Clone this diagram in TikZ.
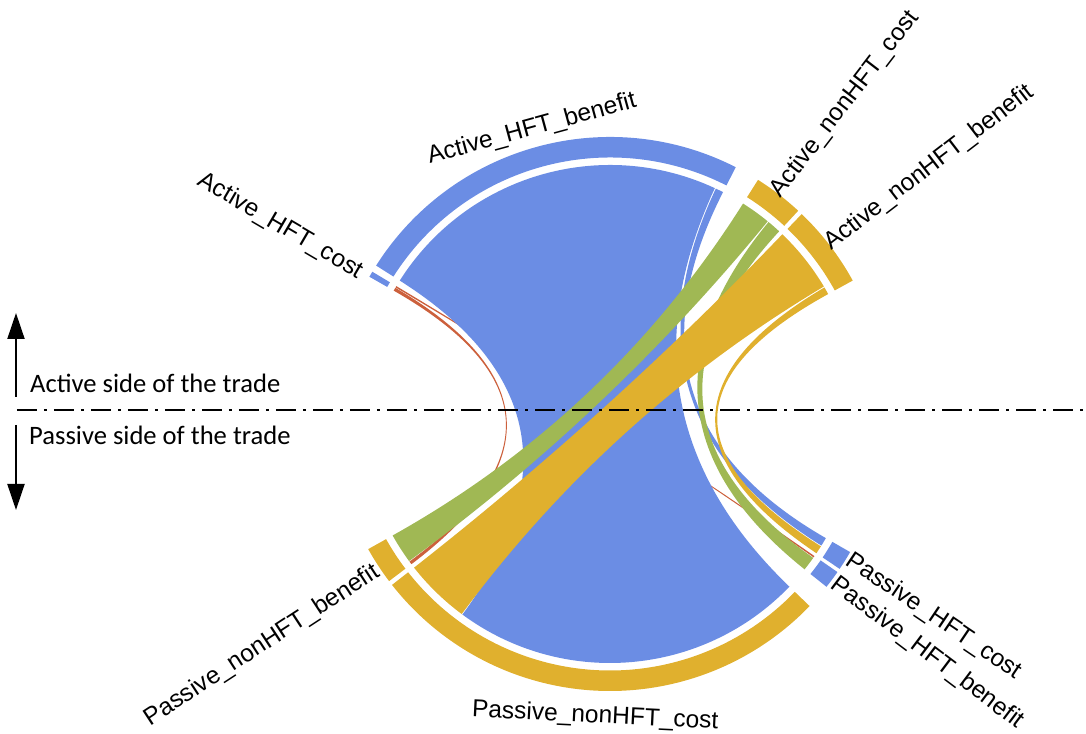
\documentclass[tikz,border=0pt]{standalone}
\usepackage{fontspec}
\setmainfont{Liberation Sans}
\newfontfamily\calibfont{Carlito}
\usetikzlibrary{arrows.meta}
\definecolor{cblue}{RGB}{107,141,228}
\definecolor{cgold}{RGB}{224,176,46}
\definecolor{cgreen}{RGB}{160,184,84}
\definecolor{cred}{RGB}{204,96,60}
\newcommand\RC{249pt}
\newcommand\RCt{83pt}
\newcommand\Rin{256.5pt}
\newcommand\Rout{277pt}
% ribbon: colour, top start, top end, bottom start, bottom end (degrees, CCW)
\newcommand\ribbon[5]{\fill[#1] (#2:\RC) arc[start angle=#2,end angle=#3,radius=\RC]
  .. controls (#3:\RCt) and (#4:\RCt) .. (#4:\RC) arc[start angle=#4,end angle=#5,radius=\RC]
  .. controls (#5:\RCt) and (#2:\RCt) .. (#2:\RC) -- cycle;}
% sector band: colour, start, end
\newcommand\sectorband[3]{\fill[#1] (#2:\Rin) arc[start angle=#2,end angle=#3,radius=\Rin]
  -- (#3:\Rout) arc[start angle=#3,end angle=#2,radius=\Rout] -- cycle;}
\tikzset{
  lab/.style={font=\fontsize{24.5}{28}\selectfont, inner sep=0pt},
  side/.style={font=\calibfont\fontsize{26.6}{30}\selectfont, inner sep=0pt, anchor=base west},
  axisline/.style={line width=2pt, dash pattern=on 20pt off 7pt on 3pt off 7pt},
  sidearrow/.style={line width=2pt, -{Triangle[length=26pt,width=17pt]}}
}
\begin{document}
\begin{tikzpicture}[x=1pt,y=1pt]
\useasboundingbox (-610,-319) rectangle (476,414);
% sectors
\sectorband{cgold}{28.8}{46.2}
\sectorband{cgold}{47.2}{57.7}
\sectorband{cblue}{63}{147.6}
\sectorband{cblue}{149.1}{150.3}
\sectorband{cgold}{209.2}{217.1}
\sectorband{cgold}{218.1}{316.1}
\sectorband{cblue}{321.4}{325.2}
\sectorband{cblue}{326}{330.1}
% ribbons
\ribbon{cred}{149.55}{150.3}{216.35}{217.1}
\ribbon{cred}{149.1}{149.45}{324.85}{325.2}
\ribbon{cblue}{65.1}{147.6}{233.65}{316.1}
\ribbon{cblue}{63}{64.85}{328.1}{330.1}
\ribbon{cgreen}{50.7}{57.7}{209.2}{216.2}
\ribbon{cgreen}{47.2}{50.45}{321.4}{324.7}
\ribbon{cgold}{30.8}{46.2}{218.1}{233.45}
\ribbon{cgold}{28.8}{30.55}{326}{327.9}
% labels
\node[lab, anchor=base, rotate=15.3] (ahb) at (105.3:289pt) {Active\_HFT\_benefit};
\node[lab, anchor=base, rotate=-2.8] (pnc) at (267.2:309pt) {Passive\_nonHFT\_cost};
\node[lab, anchor=east, rotate=-30.3] (ahc) at (150.5:286pt) {Active\_HFT\_cost};
\node[lab, anchor=west, rotate=52.45] (anc) at (53:275pt) {Active\_nonHFT\_cost};
\node[lab, anchor=west, rotate=37.5] (anb) at (37.7:275pt) {Active\_nonHFT\_benefit};
\node[lab, anchor=west, rotate=-34] (phc) at (-31.3:279pt) {Passive\_HFT\_cost};
\node[lab, anchor=west, rotate=-37] (phb) at (-37:280pt) {Passive\_HFT\_benefit};
\node[lab, anchor=east, rotate=33.15] (pnb) at (213.9:280pt) {Passive\_nonHFT\_benefit};
% trade sides
\coordinate (axL) at (-593,4);
\coordinate (axR) at (476,4);
\draw[axisline] (axL) -- (axR);
\coordinate (upS) at (-594,17);
\coordinate (upE) at (-594,101);
\coordinate (dnS) at (-594,-11);
\coordinate (dnE) at (-594,-96);
\draw[sidearrow] (upS) -- (upE);
\draw[sidearrow] (dnS) -- (dnE);
\node[side] (act) at (-580,21) {Active side of the trade};
\node[side] (pas) at (-581,-31) {Passive side of the trade};
\end{tikzpicture}
\end{document}
